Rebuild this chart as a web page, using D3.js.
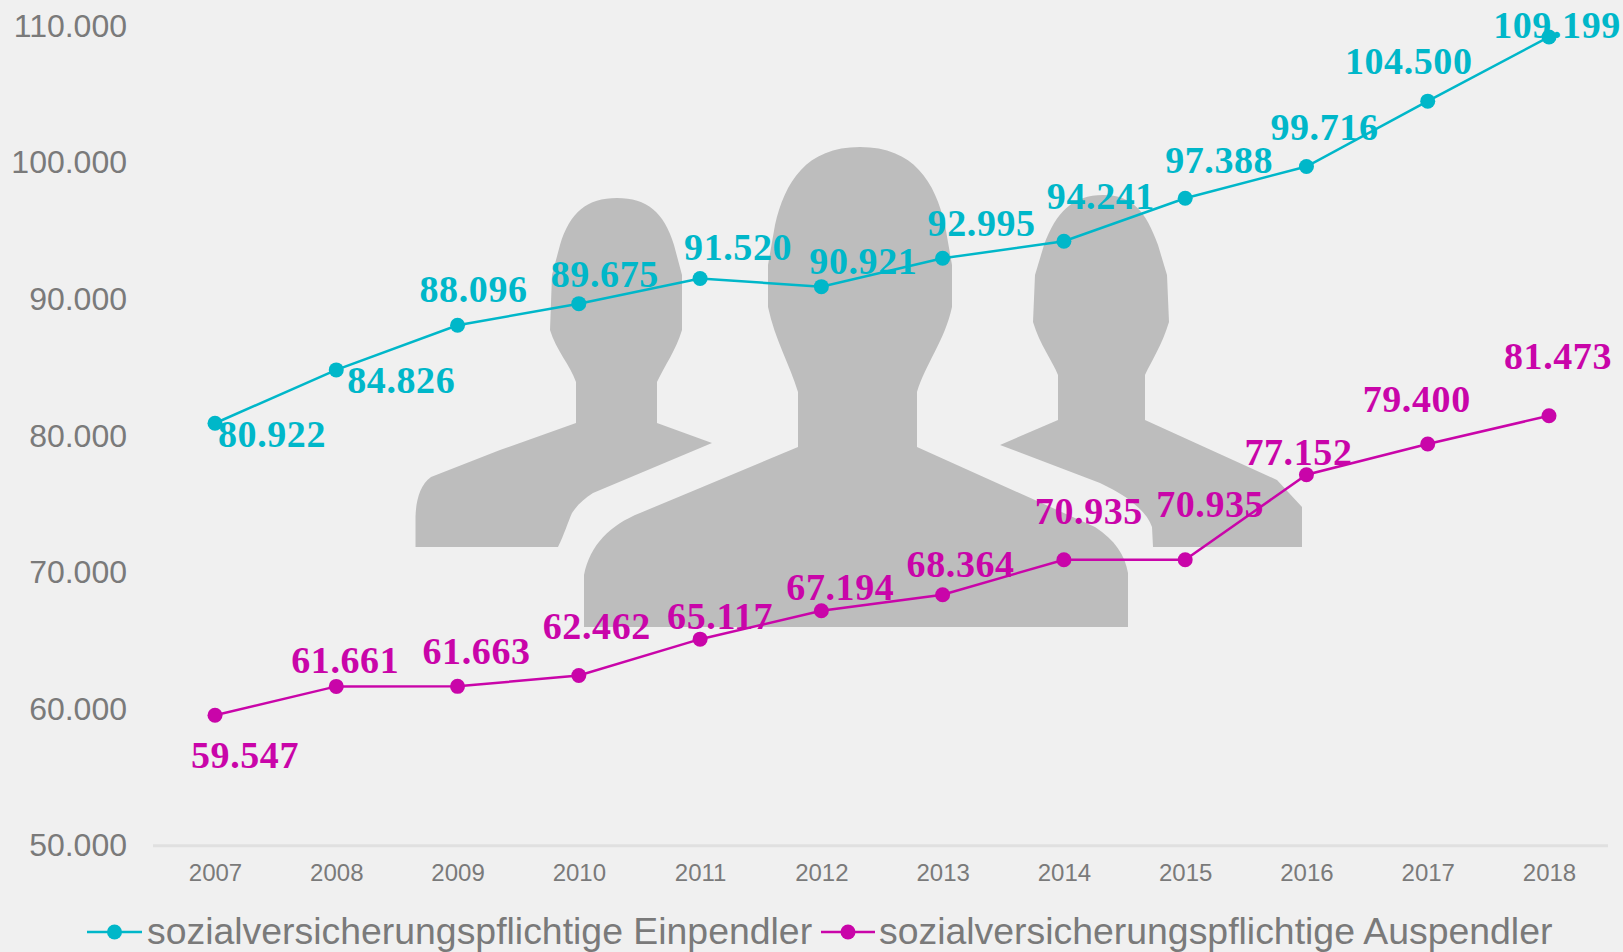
<!DOCTYPE html>
<html lang="de">
<head>
<meta charset="utf-8">
<title>Pendler</title>
<script src="https://cdn.jsdelivr.net/npm/d3@7"></script>
<style>
    html, body { margin: 0; padding: 0; background: #f0f0f0; }
    svg { display: block; }
    text { font-family: "Liberation Sans", Arial, sans-serif; fill: #7a7a7a; }
    .valueLabel { font-family: "Liberation Serif", serif; font-weight: bold; font-size: 38px; letter-spacing: 0.6px; text-anchor: middle; }
    .axis text { font-size: 24px; }
    .yAxis text { font-size: 32px; }
    .legendText { font-size: 37.4px; }
</style>
</head>
<body>
<svg id="chart" width="1623" height="952"></svg>
<script>
const years = ["2007", "2008", "2009", "2010", "2011", "2012", "2013", "2014", "2015", "2016", "2017", "2018"];
const einpendler = [80922, 84826, 88096, 89675, 91520, 90921, 92995, 94241, 97388, 99716, 104500, 109199];
const auspendler = [59547, 61661, 61663, 62462, 65117, 67194, 68364, 70935, 70935, 77152, 79400, 81473];
const yTicks = [50000, 60000, 70000, 80000, 90000, 100000, 110000];
const einName = "sozialversicherungspflichtige Einpendler";
const ausName = "sozialversicherungspflichtige Auspendler";

// label placement relative to the marker, picked by hand like in the original
const einOffsets = [[57, 11], [65, 10], [16, -36], [26, -30], [38, -31], [42, -26], [39, -35], [37, -45], [34, -38], [18, -39], [-19, -40], [8, -12]];
const ausOffsets = [[30, 40], [9, -26], [19, -35], [18, -49], [20, -23], [19, -24], [18, -31], [25, -49], [25, -56], [-8, -23], [-11, -45], [9, -60]];

const teal = "#00b7c9";
const magenta = "#c905a9";

// background people, not data
const people = [
    "M617,198 C587,198 570,212 560,245 L552,275 L550,330 C556,350 570,365 576,382 L576,423 L500,450 L431,477 C420,485 416,500 415.5,517 L415.5,547 L558,547 C564,535 568,522 572,513 C578,504 585,498 593,493 L712,443 L657,423 L657,382 C665,365 676,350 682,330 L682,275 L674,245 C664,212 647,198 617,198 Z",
    "M1103,195 C1073,195 1056,212 1044,245 L1035,275 L1033,322 C1040,345 1052,360 1058,375 L1058,420 L1000,445 L1100,483 C1112,489 1124,495 1133,503 C1142,510 1149,518 1152,527 L1153,547 L1302,547 L1302,507 L1277,480 L1145,420 L1145,375 C1152,360 1162,345 1169,322 L1167,275 L1158,245 C1146,212 1133,195 1103,195 Z",
    "M860,147 C806,147 785,182 775,225 L768,265 L768,307 C775,340 790,365 798,392 L798,447 L700,488 L640,513 C610,525 590,545 584,575 L584,627 L1128,627 L1128,573 C1125,555 1115,540 1095,527 L917,447 L917,392 C925,365 945,340 952,307 L952,265 L945,225 C935,182 914,147 860,147 Z"
];

const svg = d3.select("#chart");
svg.append("rect").attr("width", 1623).attr("height", 952).attr("fill", "#f0f0f0");

svg.append("g").selectAll("path")
    .data(people)
    .enter()
    .append("path")
    .attr("d", d => d)
    .attr("fill", "#bdbdbd");

const xScale = d3.scalePoint().domain(years).range([215, 1549]);
const yScale = d3.scaleLinear().domain([50000, 110000]).range([845.7, 26]);
const germanFormat = d3.formatLocale({ decimal: ",", thousands: ".", grouping: [3], currency: ["", " €"] }).format(",d");

const yAxis = svg.append("g")
    .attr("class", "axis yAxis")
    .attr("transform", "translate(127,0)")
    .call(d3.axisLeft(yScale).tickValues(yTicks).tickFormat(germanFormat).tickSize(0).tickPadding(0));
yAxis.select(".domain").remove();
yAxis.selectAll("text").attr("fill", "#7a7a7a");

const xAxis = svg.append("g")
    .attr("class", "axis xAxis")
    .attr("transform", "translate(0,845.7)")
    .call(d3.axisBottom(xScale).tickSize(0).tickPadding(18));
xAxis.select(".domain").remove();
xAxis.selectAll("text").attr("fill", "#7a7a7a");

// baseline runs half a category beyond the first and last point
svg.append("line")
    .attr("x1", xScale(years[0]) - 62)
    .attr("x2", xScale(years[years.length - 1]) + 59)
    .attr("y1", yScale(50000))
    .attr("y2", yScale(50000))
    .attr("stroke", "#e0e0e0")
    .attr("stroke-width", 3);

function drawSeries(values, offsets, color)
{
    const line = d3.line()
        .x((d, i) => xScale(years[i]))
        .y(d => yScale(d));

    svg.append("path")
        .datum(values)
        .attr("d", line)
        .attr("fill", "none")
        .attr("stroke", color)
        .attr("stroke-width", 2.5);

    svg.append("g").selectAll("circle")
        .data(values)
        .enter()
        .append("circle")
        .attr("cx", (d, i) => xScale(years[i]))
        .attr("cy", d => yScale(d))
        .attr("r", 7.5)
        .attr("fill", color);

    svg.append("g").selectAll("text")
        .data(values)
        .enter()
        .append("text")
        .attr("class", "valueLabel")
        .attr("x", (d, i) => xScale(years[i]) + offsets[i][0])
        .attr("y", (d, i) => yScale(d) + offsets[i][1] + 13)
        .style("fill", color)
        .text(d => germanFormat(d));
}

drawSeries(einpendler, einOffsets, teal);
drawSeries(auspendler, ausOffsets, magenta);

function drawLegend(name, color, x1, x2, textX)
{
    const item = svg.append("g");
    item.append("line")
        .attr("x1", x1).attr("x2", x2)
        .attr("y1", 932).attr("y2", 932)
        .attr("stroke", color)
        .attr("stroke-width", 2.5);
    item.append("circle")
        .attr("cx", (x1 + x2) / 2)
        .attr("cy", 932)
        .attr("r", 7.5)
        .attr("fill", color);
    item.append("text")
        .attr("class", "legendText")
        .attr("x", textX)
        .attr("y", 944)
        .text(name);
}

drawLegend(einName, teal, 87, 142, 147);
drawLegend(ausName, magenta, 821, 875, 879);
</script>
</body>
</html>
